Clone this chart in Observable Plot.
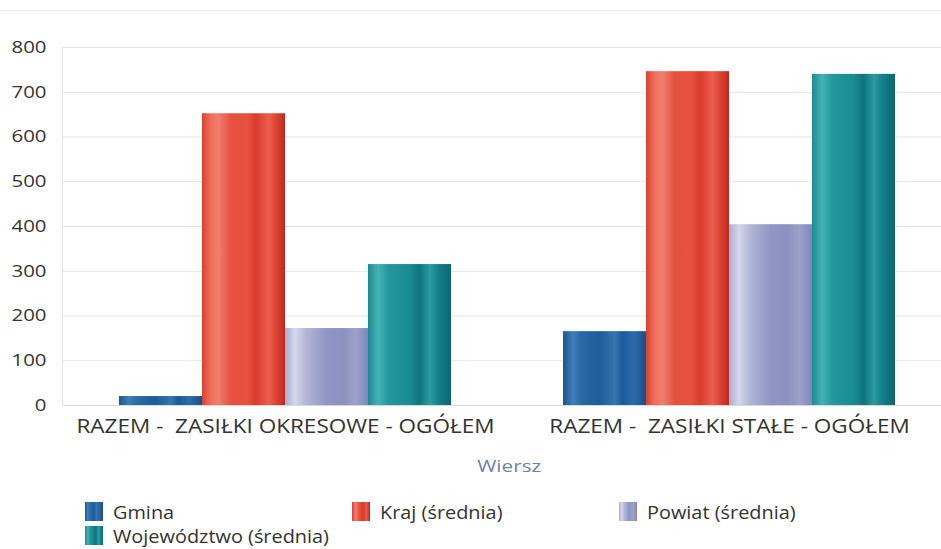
<!DOCTYPE html>
<html><head><meta charset="utf-8">
<script src="https://cdn.jsdelivr.net/npm/d3@7"></script>
<script src="https://cdn.jsdelivr.net/npm/@observablehq/plot@0.6"></script>
<style>
body{margin:0;background:#fff;font-family:"Open Sans",sans-serif;overflow:hidden}
#wrap{position:relative;width:941px;height:549px}
#chart svg text{white-space:pre}
#topline{position:absolute;left:0;top:10px;width:941px;height:1px;background:#eeeeee}
#yline{position:absolute;left:62px;top:47px;width:1px;height:358px;background:#e6e6e6}
#xlabel{position:absolute;left:39px;top:454px;width:941px;text-align:center;font-size:17px;color:#6f82a8}
#xlabel span{display:inline-block;transform:scaleX(1.22)}
#legend{position:absolute;left:85px;top:499px;width:820px;display:flex;flex-wrap:wrap;font-size:17px;line-height:23px;color:#333}
.item{width:267px;height:24px;display:flex;align-items:center;overflow:visible}
.item span{display:inline-block;transform:scale(1.17,1.1);transform-origin:left center;white-space:nowrap}
.sw{width:18px;height:19px;margin-right:10px;flex:none}
</style></head><body>
<svg width="0" height="0" style="position:absolute">
<defs>
<linearGradient id="g0" x1="0" x2="1" y1="0" y2="0">
<stop offset="0" stop-color="#1a5590"/><stop offset="0.12" stop-color="#3f7fba"/><stop offset="0.22" stop-color="#2a68a6"/><stop offset="0.45" stop-color="#1f5c99"/><stop offset="0.62" stop-color="#3675b0"/><stop offset="0.72" stop-color="#1b5a98"/><stop offset="0.85" stop-color="#2e6ca8"/><stop offset="1" stop-color="#174f88"/>
</linearGradient>
<linearGradient id="g1" x1="0" x2="1" y1="0" y2="0">
<stop offset="0" stop-color="#d8402f"/><stop offset="0.1" stop-color="#ee6e5c"/><stop offset="0.2" stop-color="#f07f6d"/><stop offset="0.35" stop-color="#e6503e"/><stop offset="0.55" stop-color="#e8503f"/><stop offset="0.65" stop-color="#d93a2c"/><stop offset="0.8" stop-color="#ec5e4c"/><stop offset="0.95" stop-color="#d23526"/><stop offset="1" stop-color="#b82a1e"/>
</linearGradient>
<linearGradient id="g2" x1="0" x2="1" y1="0" y2="0">
<stop offset="0" stop-color="#a8acd2"/><stop offset="0.12" stop-color="#d6d8ea"/><stop offset="0.25" stop-color="#b3b6d8"/><stop offset="0.5" stop-color="#9096c4"/><stop offset="0.7" stop-color="#8b91c0"/><stop offset="0.85" stop-color="#9ca1cb"/><stop offset="1" stop-color="#8086b8"/>
</linearGradient>
<linearGradient id="g3" x1="0" x2="1" y1="0" y2="0">
<stop offset="0" stop-color="#1b8a92"/><stop offset="0.12" stop-color="#45b2b6"/><stop offset="0.25" stop-color="#23979d"/><stop offset="0.5" stop-color="#1a8c93"/><stop offset="0.62" stop-color="#0f737c"/><stop offset="0.75" stop-color="#2a9ca2"/><stop offset="0.85" stop-color="#147e86"/><stop offset="1" stop-color="#0b6670"/>
</linearGradient>
</defs></svg>
<div id="wrap">
<div id="topline"></div>
<div id="chart"></div>
<div id="yline"></div>
<div id="xlabel"><span>Wiersz</span></div>
<div id="legend"></div>
</div>
<script>
const categories = ["RAZEM -  ZASIŁKI OKRESOWE - OGÓŁEM", "RAZEM -  ZASIŁKI STAŁE - OGÓŁEM"];
const seriesNames = ["Gmina", "Kraj (średnia)", "Powiat (średnia)", "Województwo (średnia)"];
const gmina = [20, 165];
const kraj = [652, 746];
const powiat = [172, 404];
const wojewodztwo = [315, 740];
const yTicks = [0, 100, 200, 300, 400, 500, 600, 700, 800];
const fills = ["url(#g0)", "url(#g1)", "url(#g2)", "url(#g3)"];
const cssFills = [
  "linear-gradient(90deg,#1a5590,#3f7fba 15%,#2a68a6 30%,#1f5c99 50%,#3675b0 65%,#174f88)",
  "linear-gradient(90deg,#d8402f,#f07f6d 20%,#e6503e 40%,#d93a2c 65%,#ec5e4c 80%,#b82a1e)",
  "linear-gradient(90deg,#a8acd2,#d6d8ea 15%,#b3b6d8 30%,#9096c4 55%,#9ca1cb 80%,#8086b8)",
  "linear-gradient(90deg,#1b8a92,#45b2b6 15%,#23979d 30%,#0f737c 60%,#2a9ca2 75%,#0b6670)"
];

const seriesValues = [gmina, kraj, powiat, wojewodztwo];
const data = [];
categories.forEach((c, i) => seriesNames.forEach((s, j) => data.push({cat: c, series: s, value: seriesValues[j][i]})));

const chart = Plot.plot({
  width: 941, height: 450,
  marginLeft: 62, marginRight: -10, marginTop: 47, marginBottom: 45,
  style: {fontFamily: "Open Sans, sans-serif", fontSize: "17px", color: "#333", background: "transparent"},
  fx: {domain: categories, paddingInner: 0, paddingOuter: 0, label: null, tickSize: 0, tickPadding: 13},
  x: {domain: seriesNames, paddingInner: 0, paddingOuter: 0.662, align: 0.5, axis: null},
  y: {domain: [0, 800], ticks: yTicks, grid: true, label: null, tickSize: 0, tickPadding: 17},
  color: {domain: seriesNames, range: fills},
  marks: [
    Plot.ruleY([0], {stroke: "#d8d8d8"}),
    Plot.barY(data, {fx: "cat", x: "series", y: "value", fill: "series"})
  ]
});
document.getElementById("chart").appendChild(chart);
const svg = d3.select(chart);
svg.selectAll("g[aria-label='y-grid'] line, g[aria-label='y-axis grid'] line").attr("stroke", "#e4e4e4").attr("stroke-opacity", 1);
function stretch(sel, size, factor) {
  sel.each(function() {
    this.style.fontSize = size + "px";
    const len = this.getComputedTextLength();
    this.setAttribute("textLength", len * factor);
    this.setAttribute("lengthAdjust", "spacingAndGlyphs");
  });
}
stretch(svg.selectAll("g[aria-label='fx-axis tick label'] text, g[aria-label='fx-axis'] text"), 20, 1.127);
stretch(svg.selectAll("g[aria-label='y-axis tick label'] text, g[aria-label='y-axis'] text"), 17, 1.2);

const legend = document.getElementById("legend");
seriesNames.forEach((s, j) => {
  const it = document.createElement("div"); it.className = "item";
  const sw = document.createElement("div"); sw.className = "sw"; sw.style.background = cssFills[j];
  const t = document.createElement("span"); t.textContent = s;
  it.appendChild(sw); it.appendChild(t); legend.appendChild(it);
});
</script>
</body></html>
